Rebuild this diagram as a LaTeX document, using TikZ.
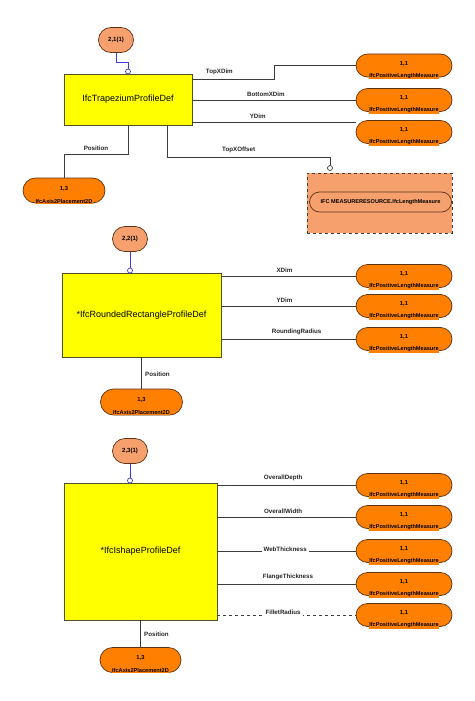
\documentclass[tikz,border=0pt]{standalone}
\usepackage{fontspec}
\setmainfont{Liberation Sans}
\usetikzlibrary{shapes.misc}
\definecolor{boxyellow}{RGB}{255,255,0}
\definecolor{boxline}{RGB}{80,80,40}
\definecolor{ovalline}{RGB}{90,50,20}
\definecolor{measorange}{RGB}{255,128,0}
\definecolor{salmon}{RGB}{246,160,110}
\definecolor{lineclr}{RGB}{60,60,60}
\definecolor{linkblue}{RGB}{60,60,220}
\begin{document}
\begin{tikzpicture}[x=1pt,y=-1pt,
    entity/.style={draw=boxline,fill=boxyellow,line width=0.9pt,inner sep=0pt,font=\fontsize{9}{10}\selectfont},
    mult/.style={rounded rectangle,draw=ovalline,fill=salmon,line width=0.7pt,minimum width=35pt,minimum height=25pt,inner sep=0pt,font=\bfseries\fontsize{6}{7}\selectfont},
    meas/.style 2 args={rounded rectangle,draw=ovalline,fill=measorange,line width=0.7pt,minimum width=96pt,minimum height=23pt,inner sep=0pt,
        label={[numtxt,yshift=2pt]center:#1},label={[typetxt,yshift=-10.5pt]center:#2}},
    numtxt/.style={font=\bfseries\fontsize{5.8}{6}\selectfont},
    typetxt/.style={fill=measorange,inner sep=0.6pt,font=\bfseries\fontsize{5.6}{6}\selectfont},
    ocirc/.style={circle,fill=white,line width=0.7pt,minimum size=5pt,inner sep=0pt},
    conn/.style={draw=lineclr,line width=0.8pt},
    link/.style={draw=linkblue,line width=0.8pt},
    lbl/.style={font=\bfseries\fontsize{6.2}{7}\selectfont,text=black!85}]
    \useasboundingbox (0,0) rectangle (474,701);

    % IfcTrapeziumProfileDef
    \node[entity,minimum width=128pt,minimum height=51pt] (trap) at (128,99.5) {IfcTrapeziumProfileDef};
    \node[mult] (m1) at (116,40) {2,1(1)};
    \node[ocirc,draw=linkblue] (c1) at (128,71.5) {};
    \draw[link] (m1.south) -- ++(0,10) -| (c1.north);
    \node[meas={1,1}{IfcPositiveLengthMeasure}] (topx) at (404,65.5) {};
    \node[meas={1,1}{IfcPositiveLengthMeasure}] (botx) at (404,100) {};
    \node[meas={1,1}{IfcPositiveLengthMeasure}] (ydim) at (404,132) {};
    \node[meas={1,3}{IfcAxis2Placement2D},minimum width=82pt,minimum height=25pt] (pos1) at (64,190.5) {};
    \node[ocirc,draw=lineclr] (c4) at (330,168) {};
    \node[draw=lineclr,dashed,fill=salmon,line width=0.7pt,minimum width=145pt,minimum height=60pt] (lref) at (379.5,203) {};
    \node[rounded rectangle,draw=ovalline,fill=salmon,line width=0.7pt,minimum width=142pt,minimum height=20pt,inner sep=0pt,
        font=\bfseries\fontsize{5.6}{6}\selectfont] (lmeas) at (380.5,202) {IFC MEASURERESOURCE.IfcLengthMeasure};
    \draw[conn] (trap.east |- 0,79) -- node[lbl,above,pos=.33]{TopXDim} (274,79) |- (topx.west);
    \draw[conn] (trap.east |- botx) -- node[lbl,above,pos=.45]{BottomXDim} (botx.west);
    \draw[conn] (trap.east |- 0,122) -- node[lbl,above,pos=.4]{YDim} (ydim.west |- 0,122);
    \draw[conn] (trap.south) -- ++(0,29) -| node[lbl,above,pos=.25]{Position} (pos1.north);
    \draw[conn] (167,0 |- trap.south) -- (167,157) -| node[lbl,above,pos=.22]{TopXOffset} (c4.north);

    % IfcRoundedRectangleProfileDef
    \node[entity,minimum width=159pt,minimum height=84pt] (rrect) at (141.5,315) {*IfcRoundedRectangleProfileDef};
    \node[mult] (m2) at (130,239) {2,2(1)};
    \node[ocirc,draw=linkblue] (c2) at (130,270.5) {};
    \draw[link] (m2.south) -- (c2.north);
    \node[meas={1,1}{IfcPositiveLengthMeasure}] (xdim) at (404,276) {};
    \node[meas={1,1}{IfcPositiveLengthMeasure}] (ydim2) at (404,306) {};
    \node[meas={1,1}{IfcPositiveLengthMeasure}] (rrad) at (404,339) {};
    \node[meas={1,3}{IfcAxis2Placement2D},minimum width=82pt,minimum height=26pt] (pos2) at (141.5,402) {};
    \draw[conn] (rrect.east |- xdim) -- node[lbl,above,pos=.47]{XDim} (xdim.west);
    \draw[conn] (rrect.east |- ydim2) -- node[lbl,above,pos=.47]{YDim} (ydim2.west);
    \draw[conn] (rrect.east |- rrad) -- node[lbl,above,pos=.56]{RoundingRadius} (rrad.west);
    \draw[conn] (rrect.south) -- node[lbl,right,pos=.55]{Position} (pos2.north);

    % IfcIshapeProfileDef
    \node[entity,minimum width=153pt,minimum height=137pt] (ishape) at (140.5,551.5) {*IfcIshapeProfileDef};
    \node[mult] (m3) at (130,451) {2,3(1)};
    \node[ocirc,draw=linkblue] (c3) at (130,480.5) {};
    \draw[link] (m3.south) -- (c3.north);
    \node[meas={1,1}{IfcPositiveLengthMeasure}] (odep) at (404,485) {};
    \node[meas={1,1}{IfcPositiveLengthMeasure}] (owid) at (404,517) {};
    \node[meas={1,1}{IfcPositiveLengthMeasure}] (web) at (404,551) {};
    \node[meas={1,1}{IfcPositiveLengthMeasure}] (flange) at (404,584) {};
    \node[meas={1,1}{IfcPositiveLengthMeasure}] (fillet) at (404,615) {};
    \node[meas={1,3}{IfcAxis2Placement2D},minimum width=81pt,minimum height=25pt] (pos3) at (140.5,660) {};
    \draw[conn] (ishape.east |- odep) -- node[lbl,above,pos=.475]{OverallDepth} (odep.west);
    \draw[conn] (ishape.east |- owid) -- node[lbl,above,pos=.475]{OverallWidth} (owid.west);
    \draw[conn] (ishape.east |- web) -- node[lbl,fill=white,inner xsep=2pt,inner ysep=2.5pt,yshift=2pt,pos=.49]{WebThickness} (web.west);
    \draw[conn] (ishape.east |- flange) -- node[lbl,above,pos=.51]{FlangeThickness} (flange.west);
    \draw[conn,dashed,dash pattern=on 3pt off 3pt] (ishape.east |- fillet) -- node[lbl,fill=white,inner xsep=2pt,inner ysep=2.5pt,yshift=3pt,pos=.475]{FilletRadius} (fillet.west);
    \draw[conn] (ishape.south) -- node[lbl,right,pos=.5]{Position} (pos3.north);
\end{tikzpicture}
\end{document}
